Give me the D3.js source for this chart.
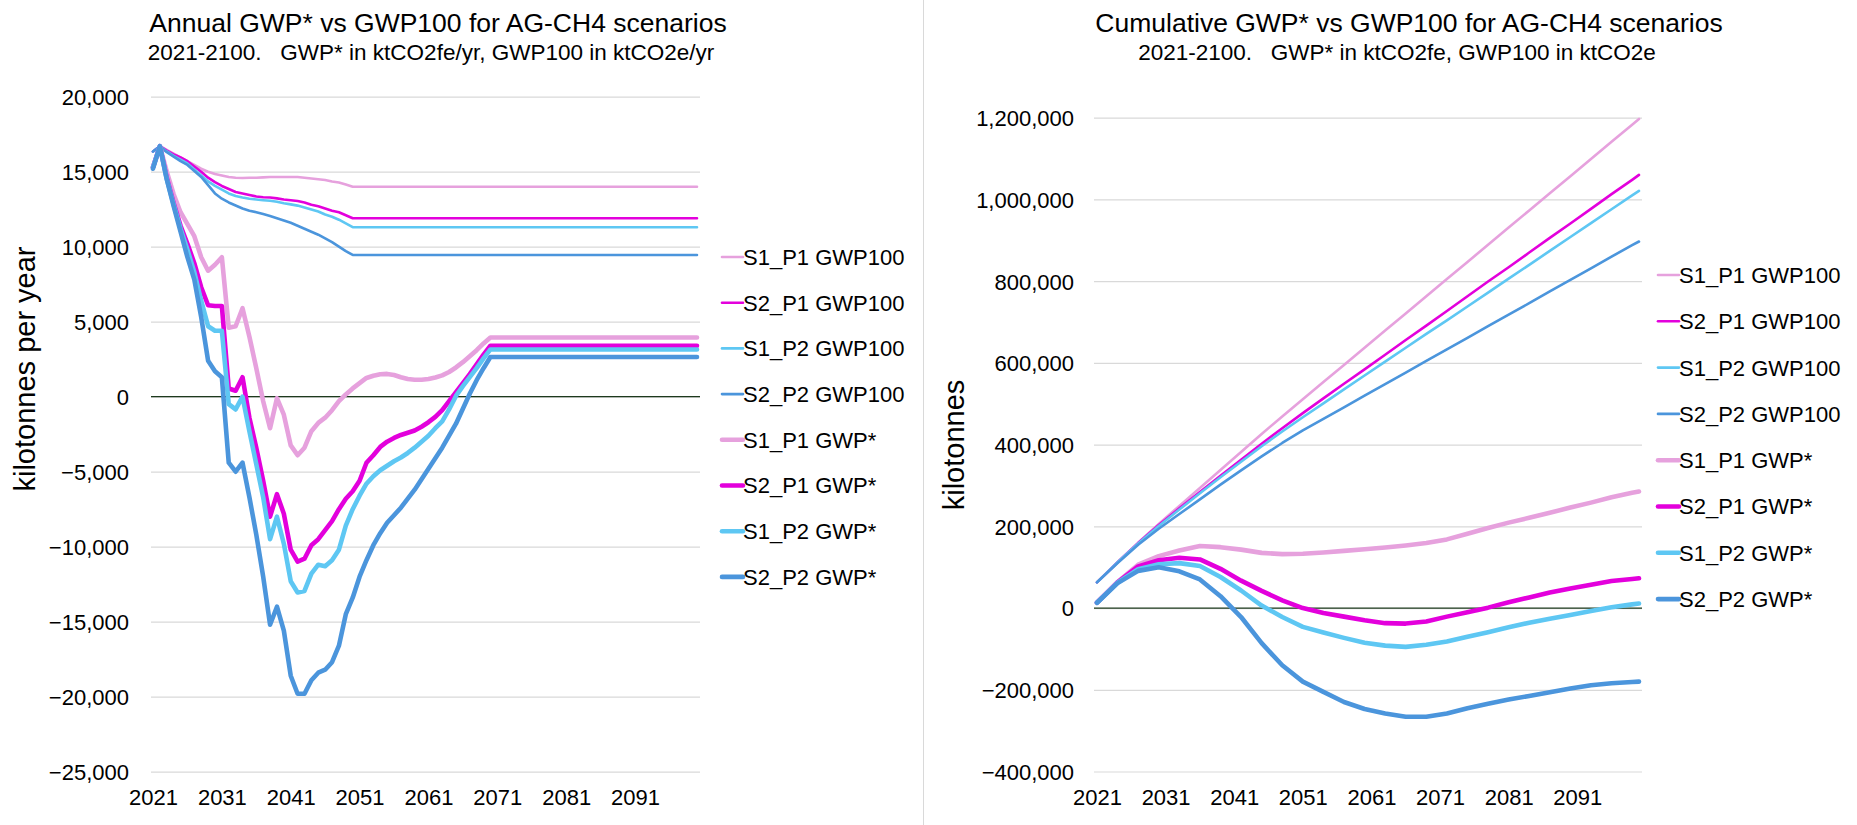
<!DOCTYPE html>
<html>
<head>
<meta charset="utf-8">
<script src="https://cdn.jsdelivr.net/npm/d3@7"></script>
<style>
body { margin: 0; background: #fff; }
svg text { font-family: "Liberation Sans", Arial, Helvetica, sans-serif; fill: #000; }
</style>
</head>
<body>
<svg id="chart" width="1857" height="825"></svg>
<script>
// categories
const years = d3.range(2021, 2101);
const cumYears = [2021,2024,2027,2030,2033,2036,2039,2042,2045,2048,2051,2054,2057,2060,2063,2066,2069,2072,2075,2078,2081,2084,2087,2090,2093,2096,2099,2100];
const seriesNames = ["S1_P1 GWP100","S2_P1 GWP100","S1_P2 GWP100","S2_P2 GWP100","S1_P1 GWP*","S2_P1 GWP*","S1_P2 GWP*","S2_P2 GWP*"];
const xTicks = [2021,2031,2041,2051,2061,2071,2081,2091];
const annualTicks = [-25000,-20000,-15000,-10000,-5000,0,5000,10000,15000,20000];
const cumTicks = [-400000,-200000,0,200000,400000,600000,800000,1000000,1200000];

// annual, kt per year, 2021-2100
const annS1P1Gwp100 = [16350,16700,16450,16200,15950,15700,15450,15200,15000,14850,
  14750,14650,14600,14580,14600,14600,14620,14650,14650,14650,
  14650,14650,14600,14550,14500,14450,14350,14280,14150,14000,
  14000,14000,14000,14000,14000,14000,14000,14000,14000,14000,
  14000,14000,14000,14000,14000,14000,14000,14000,14000,14000,
  14000,14000,14000,14000,14000,14000,14000,14000,14000,14000,
  14000,14000,14000,14000,14000,14000,14000,14000,14000,14000,
  14000,14000,14000,14000,14000,14000,14000,14000,14000,14000];
const annS2P1Gwp100 = [16350,16700,16400,16150,15950,15700,15350,15000,14600,14300,
  14050,13850,13650,13550,13450,13350,13300,13280,13220,13150,
  13100,13050,12950,12800,12700,12550,12400,12300,12100,11900,
  11900,11900,11900,11900,11900,11900,11900,11900,11900,11900,
  11900,11900,11900,11900,11900,11900,11900,11900,11900,11900,
  11900,11900,11900,11900,11900,11900,11900,11900,11900,11900,
  11900,11900,11900,11900,11900,11900,11900,11900,11900,11900,
  11900,11900,11900,11900,11900,11900,11900,11900,11900,11900];
const annS1P2Gwp100 = [16350,16700,16350,16050,15800,15550,15150,14750,14350,14050,
  13800,13550,13380,13280,13200,13150,13100,13060,13000,12900,
  12820,12740,12620,12480,12350,12150,12000,11800,11550,11300,
  11300,11300,11300,11300,11300,11300,11300,11300,11300,11300,
  11300,11300,11300,11300,11300,11300,11300,11300,11300,11300,
  11300,11300,11300,11300,11300,11300,11300,11300,11300,11300,
  11300,11300,11300,11300,11300,11300,11300,11300,11300,11300,
  11300,11300,11300,11300,11300,11300,11300,11300,11300,11300];
const annS2P2Gwp100 = [16350,16700,16300,16000,15700,15450,15050,14650,14100,13550,
  13200,12950,12750,12550,12400,12300,12180,12050,11900,11750,
  11600,11400,11200,11000,10800,10550,10300,10000,9700,9450,
  9450,9450,9450,9450,9450,9450,9450,9450,9450,9450,
  9450,9450,9450,9450,9450,9450,9450,9450,9450,9450,
  9450,9450,9450,9450,9450,9450,9450,9450,9450,9450,
  9450,9450,9450,9450,9450,9450,9450,9450,9450,9450,
  9450,9450,9450,9450,9450,9450,9450,9450,9450,9450];
const annS1P1GwpStar = [15300,16700,15000,13500,12300,11500,10700,9300,8400,8800,
  9300,4600,4700,5900,4000,1900,-300,-2100,-100,-1200,
  -3250,-3900,-3400,-2300,-1750,-1400,-900,-300,150,550,
  900,1250,1400,1500,1520,1450,1300,1180,1130,1130,
  1180,1280,1420,1650,1950,2300,2700,3100,3550,3950,
  3950,3950,3950,3950,3950,3950,3950,3950,3950,3950,
  3950,3950,3950,3950,3950,3950,3950,3950,3950,3950,
  3950,3950,3950,3950,3950,3950,3950,3950,3950,3950];
const annS2P1GwpStar = [15300,16700,14600,12900,11400,10200,8900,7300,6100,6050,
  6050,550,400,1300,-1400,-3400,-5600,-8000,-6500,-7800,
  -10200,-11000,-10800,-9900,-9500,-8900,-8300,-7500,-6800,-6300,
  -5600,-4400,-3900,-3350,-3000,-2750,-2550,-2400,-2250,-2000,
  -1700,-1350,-900,-300,300,900,1500,2150,2800,3400,
  3400,3400,3400,3400,3400,3400,3400,3400,3400,3400,
  3400,3400,3400,3400,3400,3400,3400,3400,3400,3400,
  3400,3400,3400,3400,3400,3400,3400,3400,3400,3400];
const annS1P2GwpStar = [15300,16700,14500,12800,11200,9800,8300,6400,4700,4400,
  4400,-500,-850,0,-2300,-4500,-6700,-9500,-8000,-9800,
  -12300,-13050,-12950,-11800,-11200,-11300,-10900,-10200,-8600,-7500,
  -6600,-5800,-5300,-4900,-4600,-4300,-4050,-3750,-3400,-3000,
  -2600,-2100,-1650,-850,50,700,1300,1900,2550,3150,
  3150,3150,3150,3150,3150,3150,3150,3150,3150,3150,
  3150,3150,3150,3150,3150,3150,3150,3150,3150,3150,
  3150,3150,3150,3150,3150,3150,3150,3150,3150,3150];
const annS2P2GwpStar = [15200,16700,14500,12700,11000,9300,7800,5300,2400,1700,
  1300,-4400,-5000,-4400,-6700,-9200,-12000,-15200,-14000,-15600,
  -18600,-19800,-19800,-18900,-18400,-18200,-17700,-16600,-14500,-13400,
  -12000,-10900,-9900,-9100,-8400,-7900,-7400,-6800,-6200,-5500,
  -4800,-4100,-3400,-2600,-1800,-800,200,1100,1900,2650,
  2650,2650,2650,2650,2650,2650,2650,2650,2650,2650,
  2650,2650,2650,2650,2650,2650,2650,2650,2650,2650,
  2650,2650,2650,2650,2650,2650,2650,2650,2650,2650];

// cumulative, kt, at cumYears
const cumS1P1Gwp100 = [63000,112000,160000,206000,250000,294000,338000,382000,426000,469000,511000,553000,595000,637000,679000,721000,763000,805000,847000,889000,931000,973000,1015000,1057000,1099000,1141000,1183000,1197000];
const cumS2P1Gwp100 = [63000,112000,159000,203000,244000,284000,324000,363000,402000,440000,477000,513000,549000,584000,620000,656000,691000,727000,763000,799000,834000,870000,906000,941000,977000,1013000,1048000,1060000];
const cumS1P2Gwp100 = [63000,112000,158000,201000,241000,281000,320000,358000,396000,432000,467000,501000,535000,569000,603000,637000,671000,704000,738000,772000,806000,840000,874000,908000,942000,976000,1010000,1021000];
const cumS2P2Gwp100 = [63000,110000,155000,194000,230000,266000,302000,337000,371000,404000,435000,463000,491000,520000,548000,576000,605000,633000,661000,690000,718000,746000,775000,803000,831000,860000,888000,897000];
const cumS1P1GwpStar = [13000,64000,106000,127000,141000,152000,149000,143000,135000,132000,133000,136000,140000,144000,148000,153000,159000,168000,182000,196000,209000,221000,233000,246000,258000,271000,282000,285000];
const cumS2P1GwpStar = [13000,63000,102000,117000,123000,119000,96000,67000,42000,19000,0,-12000,-21000,-30000,-37000,-38000,-33000,-21000,-10000,1000,14000,26000,38000,48000,57000,66000,71000,73000];
const cumS1P2GwpStar = [13000,62000,95000,107000,110000,103000,76000,43000,6000,-22000,-46000,-60000,-73000,-85000,-92000,-95000,-90000,-82000,-70000,-59000,-47000,-36000,-26000,-17000,-7000,2000,9000,11000];
const cumS2P2GwpStar = [13000,61000,91000,100000,90000,70000,29000,-22000,-86000,-140000,-180000,-205000,-230000,-247000,-258000,-266000,-266000,-258000,-245000,-234000,-224000,-215000,-206000,-197000,-189000,-184000,-181000,-180000];

const annualSeries = [annS1P1Gwp100, annS2P1Gwp100, annS1P2Gwp100, annS2P2Gwp100,
  annS1P1GwpStar, annS2P1GwpStar, annS1P2GwpStar, annS2P2GwpStar];
const cumSeries = [cumS1P1Gwp100, cumS2P1Gwp100, cumS1P2Gwp100, cumS2P2Gwp100,
  cumS1P1GwpStar, cumS2P1GwpStar, cumS1P2GwpStar, cumS2P2GwpStar];

let colors = ["#e6a1dd", "#e300dc", "#5ec7f3", "#4b95dc"];
let svg = d3.select("#chart");

// divider between the two charts
svg.append("line")
  .attr("x1", 923.5).attr("x2", 923.5).attr("y1", 0).attr("y2", 825)
  .style("stroke", "#d9d9d9").style("stroke-width", 1);

function drawPanel(cfg) {
  let g = svg.append("g");
  let x = d3.scaleLinear().domain([2021, 2100]).range(cfg.xr);
  let y = d3.scaleLinear().domain(cfg.yd).range(cfg.yr);

  let yaxis = d3.axisLeft(y)
    .tickValues(cfg.yticks)
    .tickSize(-(cfg.gx[1] - cfg.gx[0]))
    .tickPadding(cfg.gx[0] - cfg.labelRight)
    .tickFormat(d3.format(","));
  let ya = g.append("g").attr("transform", "translate(" + cfg.gx[0] + ",0)").call(yaxis);
  ya.select(".domain").remove();
  ya.selectAll("line").style("stroke", "#d9d9d9").style("stroke-width", 1.2);
  ya.selectAll("text").style("font-size", "22px").attr("dy", "0.36em");
  ya.attr("font-family", null).attr("font-size", null);

  let xaxis = d3.axisBottom(x).tickValues(xTicks).tickSize(0).tickPadding(8).tickFormat(d3.format("d"));
  let xa = g.append("g").attr("transform", "translate(0,781)").call(xaxis);
  xa.select(".domain").remove();
  xa.selectAll("text").style("font-size", "22px");
  xa.attr("font-family", null).attr("font-size", null);

  g.append("line")
    .attr("x1", cfg.gx[0]).attr("x2", cfg.gx[1])
    .attr("y1", y(0)).attr("y2", y(0))
    .style("stroke", "#1d3a1d").style("stroke-width", 1.3);

  let line = d3.line().x((d, i) => x(cfg.years[i])).y(d => y(d));
  cfg.series.forEach(function(s, i) {
    g.append("path")
      .datum(s)
      .attr("d", line)
      .style("fill", "none")
      .style("stroke", colors[i % 4])
      .style("stroke-width", i < 4 ? 2.6 : 4.6)
      .style("stroke-linejoin", "round")
      .style("stroke-linecap", "round");
  });

  // legend
  seriesNames.forEach(function(name, i) {
    let ly = cfg.legY + i * cfg.legDy;
    g.append("line")
      .attr("x1", cfg.legX).attr("x2", cfg.legX + 21)
      .attr("y1", ly).attr("y2", ly)
      .style("stroke", colors[i % 4])
      .style("stroke-width", i < 4 ? 2.6 : 4.6)
      .style("stroke-linecap", "round");
    g.append("text")
      .attr("x", cfg.legX + 21).attr("y", ly).attr("dy", "0.36em")
      .style("font-size", "22px")
      .text(name);
  });

  g.append("text").attr("x", cfg.titleX).attr("y", 32)
    .style("text-anchor", "middle").style("font-size", "26.5px")
    .text(cfg.title);
  g.append("text").attr("x", cfg.subX).attr("y", 60)
    .style("text-anchor", "middle").style("font-size", "22.5px")
    .style("white-space", "pre").attr("xml:space", "preserve")
    .text(cfg.subtitle);

  g.append("text")
    .attr("transform", "translate(" + cfg.axisTitle[0] + "," + cfg.axisTitle[1] + ") rotate(-90)")
    .attr("dy", "0.35em")
    .style("text-anchor", "middle").style("font-size", "29px")
    .text(cfg.yTitle);
}

drawPanel({
  years: years,
  series: annualSeries,
  xr: [153, 697], gx: [151, 700],
  yd: [-25000, 20000], yr: [771.7, 96.7],
  yticks: annualTicks, labelRight: 129,
  legX: 722, legY: 257, legDy: 45.7,
  title: "Annual GWP* vs GWP100 for AG-CH4 scenarios", titleX: 438,
  subtitle: "2021-2100.   GWP* in ktCO2fe/yr, GWP100 in ktCO2e/yr", subX: 431,
  yTitle: "kilotonnes per year", axisTitle: [25, 369]
});

drawPanel({
  years: cumYears,
  series: cumSeries,
  xr: [1097, 1639], gx: [1094, 1642],
  yd: [-400000, 1200000], yr: [771.5, 117.7],
  yticks: cumTicks, labelRight: 1074,
  legX: 1658, legY: 275, legDy: 46.3,
  title: "Cumulative GWP* vs GWP100 for AG-CH4 scenarios", titleX: 1409,
  subtitle: "2021-2100.   GWP* in ktCO2fe, GWP100 in ktCO2e", subX: 1397,
  yTitle: "kilotonnes", axisTitle: [954, 445]
});
</script>
</body>
</html>
